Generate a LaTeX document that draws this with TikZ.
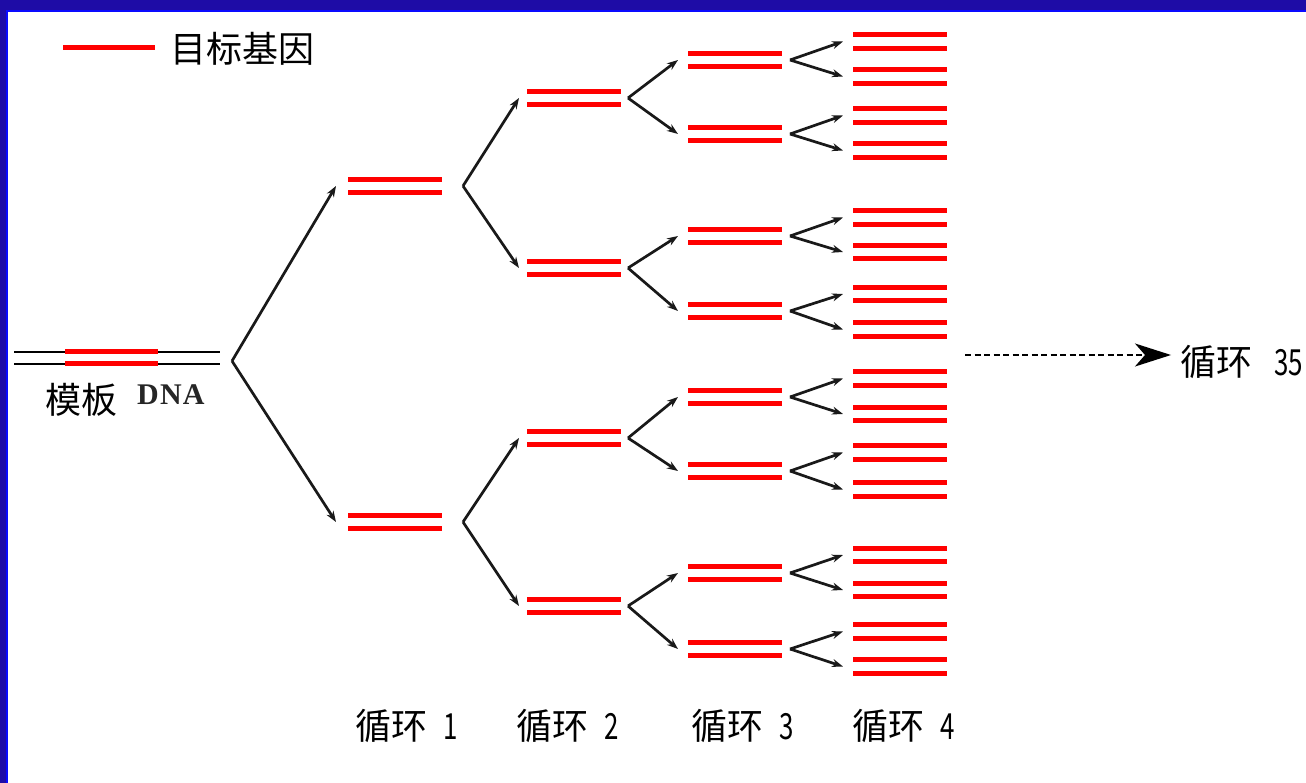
\documentclass[tikz,border=0pt]{standalone}
\usepackage{fontspec}
\newfontfamily\cjk{Noto Sans CJK SC}
\newfontfamily\dnafont[LetterSpace=4]{Liberation Serif}
\usetikzlibrary{arrows.meta}
\definecolor{framedark}{HTML}{1E0CA6}
\definecolor{framebright}{HTML}{0A0AFF}
\definecolor{genered}{HTML}{FF0000}
\newcommand{\dg}[1]{\scalebox{0.72}[1]{#1}}
\begin{document}
\begin{tikzpicture}[x=1pt,y=-1pt,
  pair/.style={minimum width=94pt, minimum height=13.5pt, inner sep=0pt, outer sep=0pt},
  bar/.style={genered, line width=5pt},
  arr/.style={line width=2.7pt, black!90, -{Stealth[length=11pt,width=8pt]}},
  lab/.style={anchor=base west, inner sep=0pt, font=\cjk\fontsize{36}{40}\selectfont},
  dasharr/.style={line width=1.6pt, dash pattern=on 6pt off 3.5pt, -{Stealth[length=36pt,width=23pt,inset=10pt]}},
]
% background and frame
\fill[white] (0,0) rectangle (1306,783);
\useasboundingbox (0,0) rectangle (1306,783);
\fill[framedark] (0,0) rectangle (1306,10);
\fill[framebright] (0,10) rectangle (1306,12.5);
\fill[framedark] (0,0) rectangle (6,783);
\fill[framebright] (6,12.5) rectangle (7.5,783);

% legend
\coordinate (lega) at (63,48);
\coordinate (legb) at (155,48);
\draw[bar] (lega) -- (legb);
\node[lab] (legtxt) at (170,63) {目标基因};

% template DNA
\node[pair, minimum width=206pt, minimum height=12pt] (tmpl) at (117,358) {};
\node[pair, minimum width=93pt, minimum height=12pt] (tgene) at (111.5,358) {};
\draw[black, line width=2pt] (tmpl.north west) -- (tmpl.north east) (tmpl.south west) -- (tmpl.south east);
\draw[bar] (tgene.north west) -- (tgene.north east) (tgene.south west) -- (tgene.south east);
\node[lab] (tlab) at (45,413) {模板};
\node[anchor=base west, inner sep=0pt, font=\dnafont\bfseries\fontsize{30}{32}\selectfont, text=black!85] (dna) at (137,404) {DNA};

% cycle 1
\node[pair] (c1a) at (395,186) {};
\node[pair] (c1b) at (395,522) {};
% cycle 2
\node[pair] (c2a) at (574,98) {};
\node[pair] (c2b) at (574,268) {};
\node[pair] (c2c) at (574,438) {};
\node[pair] (c2d) at (574,606) {};
% cycle 3
\foreach \n/\y in {a/60,b/134,c/236,d/311,e/397,f/471,g/573,h/649}
  \node[pair] (c3\n) at (735,\y) {};
% cycle 4
\foreach \n/\y in {a/41.5,b/76.5,c/115.5,d/150.5,e/217.5,f/252,g/294,h/329.5,i/378.5,j/414,k/452.5,l/489.5,m/555,n/590,o/631.5,p/666.5}
  \node[pair] (c4\n) at (900,\y) {};

% bars
\foreach \n in {c1a,c1b,c2a,c2b,c2c,c2d,c3a,c3b,c3c,c3d,c3e,c3f,c3g,c3h,c4a,c4b,c4c,c4d,c4e,c4f,c4g,c4h,c4i,c4j,c4k,c4l,c4m,c4n,c4o,c4p}
  \draw[bar] (\n.north west) -- (\n.north east) (\n.south west) -- (\n.south east);

% branches: template -> cycle 1
\coordinate (b0) at ([xshift=12pt,yshift=-3pt]tmpl.east);
\draw[arr] (b0) -- ([xshift=-12pt]c1a.west);
\draw[arr] (b0) -- ([xshift=-12pt]c1b.west);
% cycle 1 -> cycle 2
\foreach \p/\u/\d in {c1a/c2a/c2b, c1b/c2c/c2d}{
  \coordinate (br\p) at ([xshift=21pt]\p.east);
  \draw[arr] (br\p) -- ([xshift=-8pt]\u.west);
  \draw[arr] (br\p) -- ([xshift=-8pt]\d.west);
}
% cycle 2 -> cycle 3
\foreach \p/\u/\d in {c2a/c3a/c3b, c2b/c3c/c3d, c2c/c3e/c3f, c2d/c3g/c3h}{
  \coordinate (br\p) at ([xshift=7pt]\p.east);
  \draw[arr] (br\p) -- ([xshift=-10pt]\u.west);
  \draw[arr] (br\p) -- ([xshift=-10pt]\d.west);
}
% cycle 3 -> cycle 4
\foreach \p/\u/\d in {c3a/c4a/c4b, c3b/c4c/c4d, c3c/c4e/c4f, c3d/c4g/c4h, c3e/c4i/c4j, c3f/c4k/c4l, c3g/c4m/c4n, c3h/c4o/c4p}{
  \coordinate (br\p) at ([xshift=8pt]\p.east);
  \draw[arr] (br\p) -- ([xshift=-10pt]\u.west);
  \draw[arr] (br\p) -- ([xshift=-10pt]\d.west);
}

% dashed arrow to cycle 35
\coordinate (dstart) at (965,355);
\coordinate (dend) at (1171,355);
\draw[dasharr] (dstart) -- (dend);
\node[lab] (l35) at (1180,376) {循环\hspace{22pt}\dg{35}};

% cycle labels
\node[lab] (l1) at (355,739) {循环\hspace{16pt}\dg{1}};
\node[lab] (l2) at (516,739) {循环\hspace{16pt}\dg{2}};
\node[lab] (l3) at (691,739) {循环\hspace{16pt}\dg{3}};
\node[lab] (l4) at (852,739) {循环\hspace{16pt}\dg{4}};
\end{tikzpicture}
\end{document}
